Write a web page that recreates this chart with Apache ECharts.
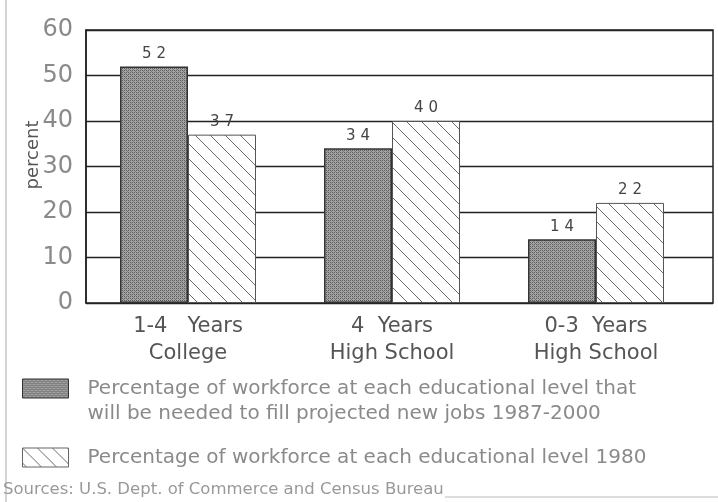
<!DOCTYPE html>
<html>
<head>
<meta charset="utf-8">
<script src="https://cdn.jsdelivr.net/npm/echarts@6/dist/echarts.min.js"></script>
<style>
  html, body { margin: 0; padding: 0; background: #fff; }
  #chart { width: 718px; height: 502px; }
</style>
</head>
<body>
<div id="chart"></div>
<script>
// data
const categories = ['1-4   Years\nCollege', '4  Years\nHigh School', '0-3  Years\nHigh School'];
const neededNewJobs = [52, 34, 14];
const workforce1980 = [37, 40, 22];
const seriesNames = [
    'Percentage of workforce at each educational level that\nwill be needed to fill projected new jobs 1987-2000',
    'Percentage of workforce at each educational level 1980'
];

// stippled grey fill for the dark bars
function makeStipple() {
    const c = document.createElement('canvas');
    c.width = 4; c.height = 4;
    const ctx = c.getContext('2d');
    ctx.fillStyle = '#a4a4a4';
    ctx.fillRect(0, 0, 4, 4);
    ctx.fillStyle = '#5e5e5e';
    ctx.fillRect(0, 0, 1, 1); ctx.fillRect(2, 2, 1, 1);
    ctx.fillRect(2, 0, 1, 1); ctx.fillRect(0, 2, 1, 1);
    ctx.fillStyle = '#7a7a7a';
    ctx.fillRect(1, 1, 1, 1); ctx.fillRect(3, 3, 1, 1);
    return c;
}

// "\" hatching on white for the 1980 bars
function makeHatch() {
    const s = 15;
    const c = document.createElement('canvas');
    c.width = s; c.height = s;
    const ctx = c.getContext('2d');
    ctx.fillStyle = '#fff';
    ctx.fillRect(0, 0, s, s);
    ctx.strokeStyle = '#6a6a6a';
    ctx.lineWidth = 1;
    ctx.beginPath();
    ctx.moveTo(-2, -2); ctx.lineTo(s + 2, s + 2);
    ctx.moveTo(-2 - s, -2); ctx.lineTo(2, s + 2);
    ctx.moveTo(s - 2, -2); ctx.lineTo(2 * s + 2, s + 2);
    ctx.stroke();
    return c;
}

const stipple = { image: makeStipple(), repeat: 'repeat' };
const hatch = { image: makeHatch(), repeat: 'repeat' };

const spaced = p => String(p.value).split('').join(' ');

const legendText = {
    fontFamily: 'DejaVu Sans, sans-serif',
    fontSize: 20,
    lineHeight: 25,
    color: '#8a8a8a',
    padding: [0, 0, 0, 14]
};

const chart = echarts.init(document.getElementById('chart'));
chart.setOption({
    animation: false,
    backgroundColor: '#fff',
    grid: [
        // outer box + gridlines
        { left: 86, right: 5, top: 30, bottom: 199, show: true, borderColor: '#222', borderWidth: 1.5 },
        // bars sit in a slightly narrower band
        { left: 86, right: 20, top: 30, bottom: 199 }
    ],
    xAxis: [
        { gridIndex: 0, type: 'value', min: 0, max: 1, show: false },
        {
            gridIndex: 1,
            type: 'category',
            data: categories,
            axisLine: { show: false },
            axisTick: { show: false },
            axisLabel: {
                margin: 10,
                fontFamily: 'DejaVu Sans, sans-serif',
                fontSize: 21,
                lineHeight: 27,
                color: '#555'
            }
        }
    ],
    yAxis: [
        {
            gridIndex: 0,
            type: 'value',
            min: 0,
            max: 60,
            interval: 10,
            axisLine: { show: true, lineStyle: { color: '#222', width: 1.5 } },
            axisTick: { show: false },
            axisLabel: { margin: 13, fontFamily: 'DejaVu Sans, sans-serif', fontSize: 24, color: '#8a8a8a' },
            splitLine: { lineStyle: { color: '#222', width: 1.3 } }
        },
        { gridIndex: 1, type: 'value', min: 0, max: 60, show: false }
    ],
    legend: [
        {
            // blank first line keeps the swatch level with the first text line
            left: 17,
            top: 346,
            icon: 'rect',
            itemWidth: 46,
            itemHeight: 19,
            itemStyle: { borderColor: '#333', borderWidth: 1 },
            textStyle: legendText,
            formatter: name => '\u00a0\n' + name,
            data: [seriesNames[0]]
        },
        {
            left: 17,
            top: 440,
            icon: 'rect',
            itemWidth: 46,
            itemHeight: 19,
            itemStyle: { borderColor: '#666', borderWidth: 1 },
            textStyle: legendText,
            data: [seriesNames[1]]
        }
    ],
    series: [
        {
            name: seriesNames[0],
            type: 'bar',
            xAxisIndex: 1,
            yAxisIndex: 1,
            data: neededNewJobs,
            barWidth: 68,
            barGap: 0,
            itemStyle: { color: stipple, borderColor: '#333', borderWidth: 1.5 },
            label: {
                show: true,
                position: 'top',
                distance: 5,
                formatter: spaced,
                fontFamily: 'DejaVu Sans, sans-serif',
                fontSize: 15,
                color: '#444'
            }
        },
        {
            name: seriesNames[1],
            type: 'bar',
            xAxisIndex: 1,
            yAxisIndex: 1,
            data: workforce1980,
            barWidth: 68,
            barGap: 0,
            itemStyle: { color: hatch, borderColor: '#555', borderWidth: 1 },
            label: {
                show: true,
                position: 'top',
                distance: 5,
                formatter: spaced,
                fontFamily: 'DejaVu Sans, sans-serif',
                fontSize: 15,
                color: '#444'
            }
        }
    ],
    graphic: [
        { type: 'line', shape: { x1: 6, y1: 0, x2: 6, y2: 502 }, style: { stroke: '#aaa', lineWidth: 1 } },
        { type: 'line', shape: { x1: 445, y1: 497, x2: 718, y2: 497 }, style: { stroke: '#bbb', lineWidth: 1 } },
        {
            type: 'text',
            x: 33,
            y: 155,
            rotation: Math.PI / 2,
            style: {
                text: 'percent',
                align: 'center',
                verticalAlign: 'middle',
                font: '18px "DejaVu Sans", sans-serif',
                fill: '#555'
            }
        },
        {
            type: 'text',
            left: 3,
            top: 481,
            style: {
                text: 'Sources: U.S. Dept. of Commerce and Census Bureau',
                font: '16.5px "DejaVu Sans", sans-serif',
                fill: '#999'
            }
        }
    ]
});
</script>
</body>
</html>
